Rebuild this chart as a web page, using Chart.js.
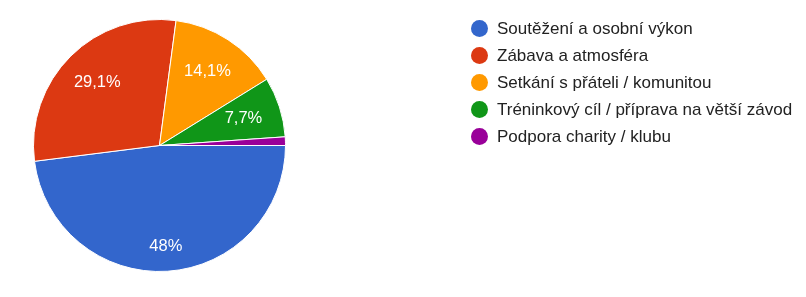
<!DOCTYPE html>
<html>
<head>
<meta charset="utf-8">
<script src="https://cdn.jsdelivr.net/npm/chart.js@4"></script>
<style>
  html, body { margin: 0; padding: 0; background: #fff; }
  #wrap { position: relative; width: 806px; height: 297px; }
  #legend { position: absolute; left: 471px; top: 15px; font-family: Arial, "Liberation Sans", sans-serif; font-size: 17px; color: #222; }
  .item { display: flex; align-items: center; height: 27px; }
  .dot { width: 17px; height: 17px; border-radius: 50%; margin-right: 9px; }
</style>
</head>
<body>
<div id="wrap">
  <canvas id="pieChart" width="806" height="297"></canvas>
  <div id="legend"></div>
</div>
<script>
const categories = [
  'Soutěžení a osobní výkon',
  'Zábava a atmosféra',
  'Setkání s přáteli / komunitou',
  'Tréninkový cíl / příprava na větší závod',
  'Podpora charity / klubu'
];
const shares = [48, 29.1, 14.1, 7.7, 1.1];
const colors = ['#3366cc', '#dc3912', '#ff9900', '#109618', '#990099'];

// legend
const legend = document.getElementById('legend');
categories.forEach((name, i) => {
  const item = document.createElement('div');
  item.className = 'item';
  item.innerHTML = `<span class="dot" style="background:${colors[i]}"></span><span>${name}</span>`;
  legend.appendChild(item);
});

// percent labels inside slices
const sliceLabels = {
  id: 'sliceLabels',
  afterDatasetsDraw(chart, args, opts) {
    const ctx = chart.ctx;
    const meta = chart.getDatasetMeta(0);
    ctx.save();
    ctx.font = '16.5px Arial, "Liberation Sans", sans-serif';
    ctx.fillStyle = '#fff';
    ctx.textAlign = 'center';
    ctx.textBaseline = 'middle';
    meta.data.forEach((arc, i) => {
      const v = shares[i];
      if (v < 2) return;
      const p = arc.getProps(['x', 'y', 'startAngle', 'endAngle', 'outerRadius'], true);
      const mid = (p.startAngle + p.endAngle) / 2;
      const r = p.outerRadius * (v > 40 ? 0.8 : 0.7);
      ctx.fillText(String(v).replace('.', ',') + '%', p.x + Math.cos(mid) * r, p.y + Math.sin(mid) * r);
    });
    ctx.restore();
  }
};

new Chart(document.getElementById('pieChart'), {
  type: 'pie',
  data: {
    labels: categories,
    datasets: [{
      data: shares,
      backgroundColor: colors,
      borderColor: '#fff',
      borderWidth: 1
    }]
  },
  options: {
    responsive: false,
    animation: false,
    rotation: 90,
    layout: { padding: { left: 33, right: 520, top: 19, bottom: 25 } },
    plugins: {
      legend: { display: false },
      tooltip: { enabled: false }
    }
  },
  plugins: [sliceLabels]
});
</script>
</body>
</html>
